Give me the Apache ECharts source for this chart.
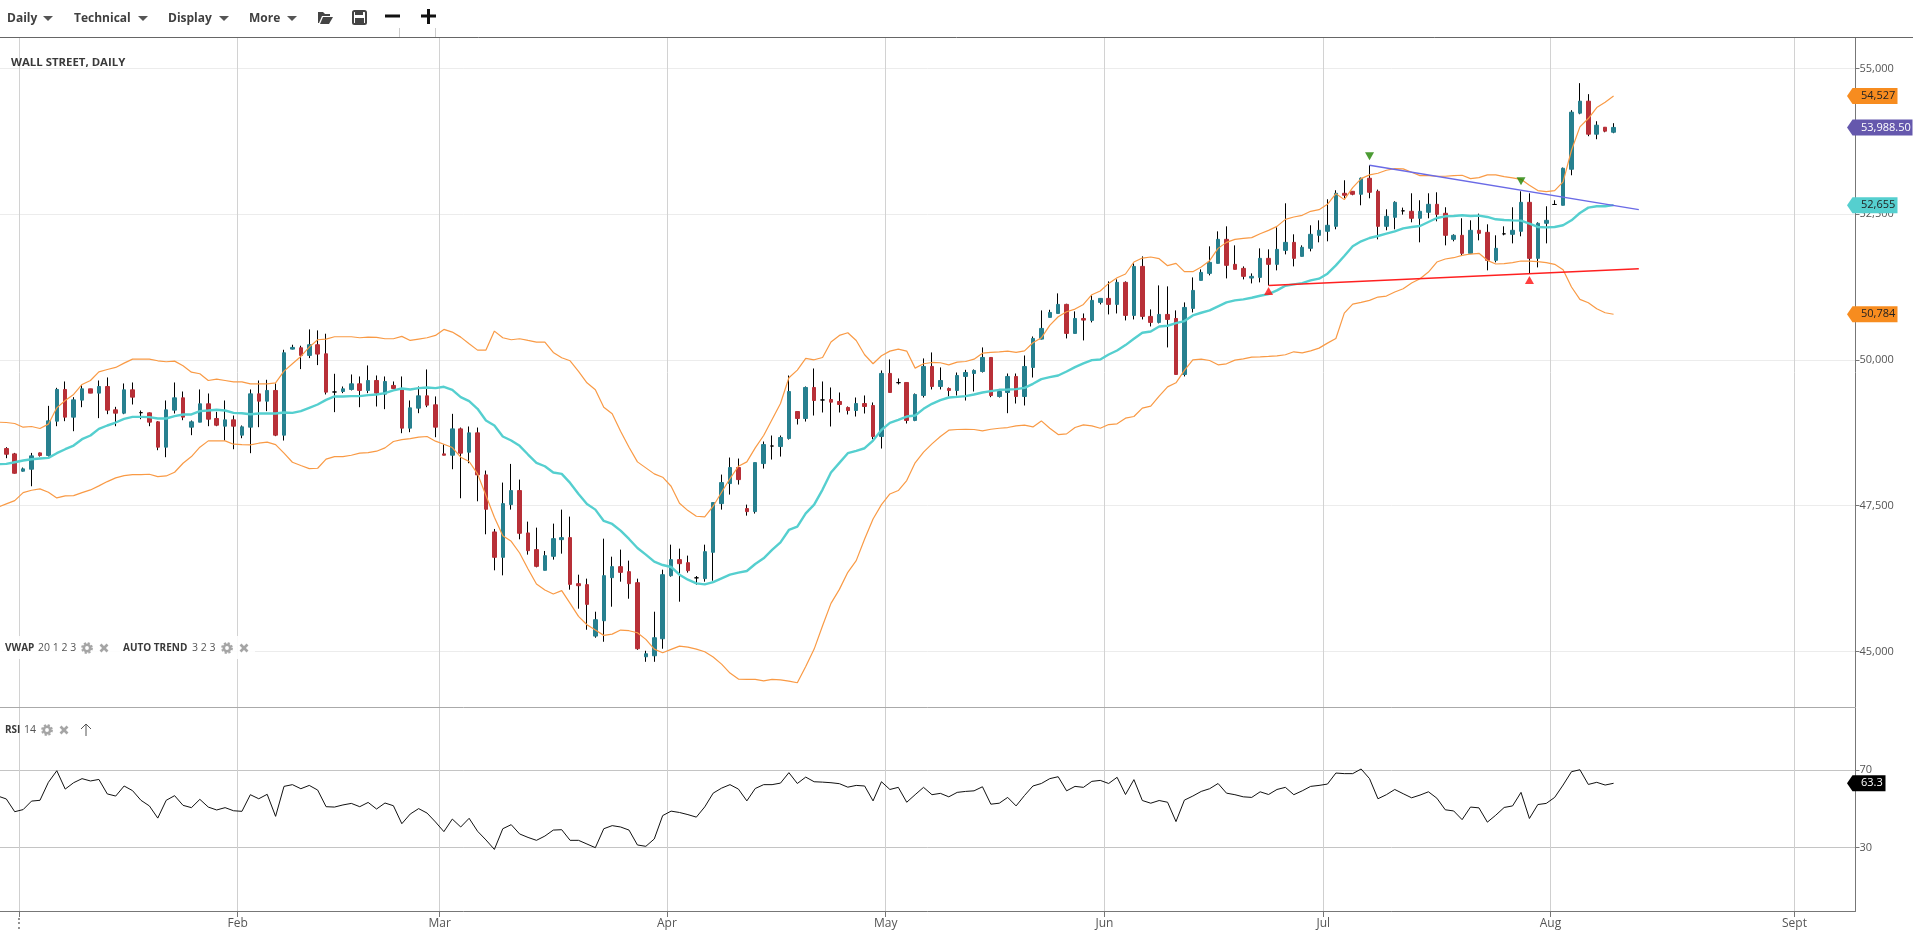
<!DOCTYPE html>
<html><head><meta charset="utf-8"><title>Wall Street, Daily</title>
<style>html,body{margin:0;padding:0;background:#fff;overflow:hidden}#c{width:1913px;height:932px}</style>
<script src="https://cdn.jsdelivr.net/npm/echarts@6/dist/echarts.min.js"></script>
</head><body><div id="c"></div>
<script>
const monthLabels = ['⋮','Feb','Mar','Apr','May','Jun','Jul','Aug','Sept'];
const monthSlots = [1.5,27.5,51.5,78.5,104.5,130.5,156.5,183.5,212.5];
const priceTicks = [45000,47500,50000,52500,55000];
const rsiTicks = [30,70];

const open = [48481,48389,48092,48126,48406,48361,48950,49494,49019,49311,
49505,49431,49545,49145,49087,49488,49096,49093,48939,48504,
49139,49351,48847,48933,49248,48996,48864,48973,48710,48847,
49419,49293,49477,48710,50186,50209,50078,50261,50106,49451,
49459,49494,49591,49477,49648,49414,49563,49494,48830,49173,
49385,49231,48389,48366,48818,48418,48750,48029,47050,46615,
47519,47760,47033,46747,46392,46632,46918,46953,46163,46146,
45264,45527,46266,46455,46369,46180,44909,44926,45218,46300,
46575,46523,46263,46249,46701,47536,47880,48155,47451,47399,
48223,48524,48515,48652,49116,48996,49528,49314,49322,49288,
49185,49133,49253,49219,48687,49769,49611,49614,48962,49391,
49889,49545,49511,49476,49717,49768,49802,50043,49373,49442,
49717,49373,49871,50358,50730,50798,50953,50455,50712,50678,
50987,51056,50953,51331,50764,51605,50747,50644,50781,50712,
49751,50884,51365,51485,51657,52069,51640,51571,51405,51416,
51743,51640,51880,52017,51777,51915,52138,52207,52292,52859,
52893,52842,53117,52893,52292,52447,52558,52550,52430,52533,
52670,52516,52069,52138,51829,52224,52189,51709,52163,52155,
52207,52704,51743,52344,52667,52653,53271,54233,54439,53872,53992,53906];
const close = [48383,48057,48132,48355,48361,48956,49494,49019,49316,49505,
49431,49545,49139,49087,49488,49362,49096,48933,48504,49145,
49351,49019,48939,49248,48984,48881,48973,48864,48853,49419,
49293,49477,48710,50123,50215,50078,50261,50101,49448,49451,
49505,49591,49477,49648,49431,49631,49511,48830,49179,49385,
49225,48847,48366,48818,48401,48750,48029,47439,46615,47536,
47760,47027,46729,46460,46643,46935,46953,46151,46128,45808,
45545,46300,46455,46357,46163,45047,44961,45236,46317,46575,
46506,46386,46263,46712,47554,47897,48155,47948,47399,48240,
48549,48524,48670,49459,48996,49528,49305,49314,49276,49236,
49133,49253,49202,48687,49769,49442,49611,48962,49408,49889,
49545,49648,49477,49734,49785,49820,50043,49390,49459,49717,
49373,49888,50369,50541,50815,50953,50455,50712,50684,51022,
51056,50953,51331,50764,51605,50747,50644,50781,50695,49751,
50901,51193,51502,51674,52069,51623,51554,51434,51434,51743,
51640,51897,52017,51743,51932,52155,52224,52310,52859,52825,
52842,53117,52876,52292,52464,52704,52558,52430,52550,52670,
52498,52138,52138,51829,52224,52172,51709,51915,52163,52224,
52704,51743,52344,52395,52667,53288,54250,54439,53872,54027,53924,53988.5];
const high = [48504,48406,48155,48406,48412,49213,49522,49631,49362,49568,
49505,49648,49700,49196,49597,49614,49133,49099,48950,49305,
49614,49459,48962,49494,49425,49110,49305,49047,48876,49494,
49648,49660,49597,50175,50261,50244,50524,50507,50450,49763,
49545,49751,49717,49906,49734,49717,49631,49717,49305,49545,
49837,49374,48549,49076,48841,48859,48841,48103,47101,47897,
48217,47948,47227,47124,46724,47193,47433,47313,46317,46249,
45682,46935,46626,46747,46558,46249,45012,45682,46403,46832,
46764,46644,46294,46832,47554,48034,48326,48309,47519,48240,
48601,48704,48704,49734,49116,49545,49854,49631,49528,49442,
49202,49356,49391,49271,49820,50009,49683,49614,49425,50026,
50129,49872,49528,49785,49831,49837,50215,50049,49476,49768,
49768,50077,50403,50850,50861,51142,50964,50833,50798,51107,
51056,51348,51382,51348,51657,51777,50867,51279,51262,50850,
50987,51416,51554,51949,52206,52292,51966,51605,51485,51914,
51897,52275,52687,52155,51966,52310,52395,52756,52911,53082,
52893,53128,53340,52922,52584,52722,52613,52859,52739,52859,
52876,52619,52155,52430,52395,52510,52327,52138,52292,52619,
52893,52859,52361,52636,52739,53300,54284,54748,54559,54095,53992,54061];
const low = [48315,48052,48086,47834,48343,48343,48864,48950,48778,49190,
49431,49002,49070,48864,49070,49236,48984,48864,48452,48332,
49082,48967,48710,48933,48864,48864,48618,48469,48658,48401,
48847,49122,48693,48618,50181,49843,50032,49912,49408,49105,
49431,49477,49190,49431,49202,49156,49500,48744,48761,49087,
49190,48675,48366,48126,47628,48229,47576,47010,46392,46306,
47433,46924,46661,46443,46392,46575,46678,46060,45734,45373,
45236,45167,45768,46197,45905,45029,44823,44823,45047,46283,
45854,46352,46146,46197,46214,47433,47691,47863,47330,47365,
48137,48292,48343,48635,48893,48944,49047,49099,48859,49099,
49065,49030,49082,48641,48481,49442,49580,48910,48950,49356,
49494,49494,49374,49390,49304,49459,49785,49362,49356,49087,
49253,49219,49699,50352,50730,50798,50369,50455,50335,50644,
50953,50781,50798,50678,50695,50695,50575,50627,50215,49751,
49717,50815,51365,51451,51657,51399,51554,51382,51313,51331,
51279,51537,51811,51605,51777,51863,52018,52035,52241,52773,
52825,52653,52773,52069,52224,52241,52493,52361,52018,52430,
52378,51966,52035,51794,51829,52052,51537,51674,52138,52000,
52121,51485,51588,52000,52659,52653,53168,54215,53838,53786,53906,53889];

// indicator series start one session before the first visible candle
const bbUpper = [48933,48927,48910,48847,48859,48824,48899,49179,49305,49408,49580,
49648,49797,49837,49872,49946,50015,50015,50015,49986,49969,
49980,49900,49791,49763,49648,49671,49648,49625,49625,49591,
49591,49591,49608,49809,49935,50060,50221,50347,50358,50398,
50398,50398,50381,50392,50387,50364,50364,50404,50335,50358,
50381,50421,50524,50478,50392,50278,50169,50169,50495,50381,
50347,50364,50335,50307,50307,50129,50038,49986,49803,49608,
49488,49190,49076,48778,48504,48252,48149,48046,47989,47834,
47542,47416,47319,47307,47491,47731,47966,48177,48252,48492,
48704,48979,49253,49694,49826,50026,50003,50043,50307,50421,
50467,50335,50089,49935,50072,50152,50186,50152,49860,49935,
49957,49952,49917,49963,49974,50014,50117,50129,50140,50152,
50129,50157,50295,50380,50592,50741,50827,50873,50953,51119,
51182,51313,51411,51474,51680,51748,51766,51737,51617,51657,
51514,51514,51594,51703,51914,52017,52069,52086,52098,52166,
52223,52292,52412,52452,52481,52550,52578,52670,52853,52750,
52956,53111,53174,53202,53254,53283,53277,53220,53162,53162,
53151,53151,53162,53168,53111,53128,53174,53174,53145,53122,
53099,52996,52905,52888,52905,53054,53597,53998,54141,54330,54422,54527];
const bbLower = [47473,47531,47588,47725,47765,47788,47731,47634,47668,47674,47725,
47771,47840,47914,47977,48017,48034,48034,48040,48000,48011,
48074,48229,48343,48504,48612,48612,48612,48555,48549,48544,
48572,48590,48549,48401,48246,48189,48137,48143,48298,48343,
48343,48366,48401,48412,48435,48492,48601,48635,48652,48675,
48687,48607,48555,48498,48332,48258,48046,47674,47302,46987,
46890,46689,46415,46157,46054,45985,46043,45825,45602,45459,
45367,45276,45298,45367,45356,45321,45207,45041,44978,45035,
45092,45075,45041,44995,44904,44783,44629,44526,44520,44520,
44497,44520,44514,44491,44463,44743,45041,45442,45825,46065,
46357,46558,46930,47273,47519,47702,47760,47931,48235,48418,
48561,48687,48796,48807,48812,48807,48784,48812,48829,48841,
48870,48881,48852,48955,48829,48721,48732,48841,48887,48870,
48829,48892,48904,49001,49030,49173,49207,49379,49539,49608,
49820,50003,50014,49991,49917,49934,49997,50020,50049,50054,
50060,50071,50089,50140,50123,50157,50203,50289,50369,50804,
50959,50987,51022,51079,51096,51165,51222,51319,51394,51508,
51680,51732,51754,51794,51817,51829,51709,51646,51651,51669,
51697,51697,51686,51669,51640,51548,51251,51039,50982,50879,50810,50784];
const vwapMid = [48212,48217,48246,48275,48298,48309,48320,48401,48469,48532,48641,
48704,48818,48876,48927,48990,49024,49024,49019,48996,48996,
49036,49065,49065,49122,49133,49145,49133,49093,49087,49070,
49082,49082,49082,49099,49093,49122,49179,49236,49316,49374,
49374,49379,49379,49397,49408,49431,49477,49511,49494,49517,
49528,49517,49540,49488,49362,49293,49162,48962,48876,48687,
48618,48527,48378,48235,48177,48069,48046,47891,47702,47531,
47433,47239,47187,47073,46930,46775,46661,46540,46483,46449,
46317,46231,46168,46151,46191,46254,46317,46352,46380,46500,
46598,46741,46872,47084,47141,47370,47519,47777,48069,48235,
48401,48441,48486,48618,48801,48921,48973,49030,49047,49162,
49248,49311,49356,49367,49379,49407,49442,49465,49488,49493,
49499,49522,49591,49671,49705,49734,49802,49877,49940,49997,
50008,50094,50163,50255,50363,50466,50489,50575,50587,50632,
50667,50764,50810,50850,50919,50987,51022,51039,51067,51102,
51130,51193,51273,51296,51319,51365,51394,51480,51623,51783,
51949,52035,52092,52126,52166,52206,52258,52281,52298,52367,
52435,52464,52470,52481,52470,52476,52453,52413,52401,52395,
52390,52338,52281,52275,52281,52310,52395,52521,52613,52636,52636,52655];
const rsi = [56.7,55.2,48.6,49.7,54.1,54.5,63.8,69.8,60.3,63.6,65.7,
64.5,65.3,57.8,56.7,61.9,59.5,54.5,51.6,45.3,54.5,
56.9,51.9,50.7,55.0,51.0,49.5,50.7,49.1,48.8,57.4,
55.3,57.6,46.2,61.7,62.6,60.5,62.2,59.8,51.2,51.0,
52.1,52.9,51.2,53.4,50.0,53.1,51.7,42.4,47.4,50.2,
47.9,43.3,38.3,44.8,40.7,45.2,38.5,34.0,29.1,39.8,
41.9,37.1,35.3,33.8,36.0,39.1,39.3,33.8,33.8,31.9,
30.0,39.8,41.4,40.7,39.1,31.4,30.7,34.5,46.6,48.9,
48.2,47.1,45.8,51.1,58.2,60.8,62.6,60.3,54.2,60.6,
62.6,62.6,63.4,68.8,63.2,66.5,64.1,63.9,63.6,63.1,
61.3,62.2,61.9,54.2,64.1,60.1,61.2,53.5,57.4,61.2,
57.4,58.1,56.3,58.6,59.1,59.4,61.5,52.5,53.0,56.0,
51.6,57.0,61.9,63.2,65.7,66.7,59.4,61.7,61.2,64.3,
64.8,63.2,66.4,57.5,65.2,54.4,53.0,54.4,53.5,43.5,
54.6,56.7,59.1,60.5,63.2,58.2,57.4,56.3,56.0,58.9,
57.5,60.1,61.2,57.4,59.4,61.7,62.2,62.9,68.6,68.3,
68.3,70.7,65.7,55.3,57.4,60.1,57.9,55.8,57.2,58.9,
55.6,49.6,49.0,44.5,51.0,50.6,43.2,46.8,50.8,51.6,
58.6,45.1,52.3,52.9,56.0,62.4,69.3,70.3,62.7,63.8,62.4,63.3];

const resistanceSlots = [162,194];
const resistanceValues = [53340,52579];
const supportSlots = [150,194];
const supportValues = [51279,51566];
const peakSlots = [162,180];
const peakValues = [53494,53065];
const troughSlots = [150,181];
const troughValues = [51182,51371];

const priceTagValues = [54527,53988.5,52655,50784];
const priceTagTexts = ['54,527','53,988.50','52,655','50,784'];
const rsiTagValues = [63.3];
const rsiTagTexts = ['63.3'];
const toolbarLabels = ['Daily','Technical','Display','More'];

const X_MIN = -0.75, X_MAX = 219.75;
const tagStyles = {
  '54,527':{fill:'#f78c1f',text:'#222',w:42},
  '53,988.50':{fill:'#6558ad',text:'#fff',w:57},
  '52,655':{fill:'#55cfcf',text:'#222',w:42},
  '50,784':{fill:'#f78c1f',text:'#222',w:42},
  '63.3':{fill:'#000',text:'#fff',w:30}
};
const FONT = '"Open Sans", sans-serif';

function tagRender(texts){
  return function(params, api){
    const p = api.coord([X_MAX, api.value(1)]);
    const t = texts[params.dataIndex];
    const s = tagStyles[t];
    const x = p[0], y = p[1];
    return {type:'group', children:[
      {type:'polygon', shape:{points:[[x-8.5,y],[x-3,y-8],[x+s.w,y-8],[x+s.w,y+8],[x-3,y+8]]}, style:{fill:s.fill}},
      {type:'text', x:x+5.5, y:y, style:{text:t, fill:s.text, font:'11px '+FONT, textVerticalAlign:'middle', verticalAlign:'middle'}}
    ]};
  };
}

const withSlot = arr => arr.map((v,i)=>[i-1,v]);
const candle = open.map((o,i)=>[i,o,close[i],low[i],high[i]]);
const body = open.map((o,i)=>[i,o,close[i],Math.min(o,close[i]),Math.max(o,close[i])]);
const zip = (a,b)=>a.map((v,i)=>[v,b[i]]);

const series = [
  {type:'candlestick', name:'Wall Street', data:candle, barWidth:1, z:2, silent:true,
   itemStyle:{color:'#000',color0:'#000',borderColor:'#000',borderColor0:'#000',borderColorDoji:'#000',borderWidth:1}},
  {type:'candlestick', name:'Bodies', data:body, barWidth:4, z:3, silent:true,
   itemStyle:{color:'#27808f',color0:'#b83038',borderColor:'#27808f',borderColor0:'#b83038',borderColorDoji:'#000',borderWidth:1}},
  {type:'line', name:'Upper', data:withSlot(bbUpper), showSymbol:false, z:4, lineStyle:{color:'#f99a45',width:1.2}},
  {type:'line', name:'Lower', data:withSlot(bbLower), showSymbol:false, z:4, lineStyle:{color:'#f99a45',width:1.2}},
  {type:'line', name:'VWAP', data:withSlot(vwapMid), showSymbol:false, z:4, lineStyle:{color:'#55cfcf',width:2.4}},
  {type:'line', name:'Resistance', data:zip(resistanceSlots,resistanceValues), showSymbol:false, z:5, lineStyle:{color:'#6a6ae6',width:1.4}},
  {type:'line', name:'Support', data:zip(supportSlots,supportValues), showSymbol:false, z:5, lineStyle:{color:'#ff2020',width:1.5}},
  {type:'scatter', name:'Peaks', data:zip(peakSlots,peakValues), symbol:'triangle', symbolRotate:180, symbolSize:[9,8], z:6, itemStyle:{color:'#1e8200'}},
  {type:'scatter', name:'Troughs', data:zip(troughSlots,troughValues), symbol:'triangle', symbolSize:[9,8], z:6, itemStyle:{color:'#ff0f0f'}},
  {type:'custom', name:'Price tags', data:priceTagValues.map(v=>[X_MAX,v]), renderItem:tagRender(priceTagTexts), clip:false, z:10, encode:{x:0,y:1}},
  {type:'line', name:'RSI', xAxisIndex:1, yAxisIndex:1, data:withSlot(rsi), showSymbol:false, z:4, lineStyle:{color:'#111',width:1}},
  {type:'custom', name:'RSI tag', xAxisIndex:1, yAxisIndex:1, data:rsiTagValues.map(v=>[X_MAX,v]), renderItem:tagRender(rsiTagTexts), clip:false, z:10, encode:{x:0,y:1}}
];

const txt = (x,y,text,opt={}) => ({type:'text', x, y, z:50, silent:true, style:Object.assign({
  text, fill:opt.fill||'#3a3a3a', font:(opt.weight||'normal')+' '+(opt.size||11)+'px '+(opt.family||FONT),
  textVerticalAlign:'middle', verticalAlign:'middle'})});
const caret = x => ({type:'polygon', z:50, silent:true, shape:{points:[[x,16],[x+10,16],[x+5,21]]}, style:{fill:'#555'}});
const toolbarX = [7,74,168,249], caretX = [43,138,219,287];
const gear = (x,y)=>({type:'group', z:50, silent:true, children:[
  {type:'circle', z:50, shape:{cx:x,cy:y,r:3.2}, style:{fill:'none',stroke:'#a5a5a5',lineWidth:2.6}},
  {type:'circle', z:50, shape:{cx:x,cy:y,r:5}, style:{fill:'none',stroke:'#a5a5a5',lineWidth:1.8,lineDash:[2.2,1.75]}}
]});
const cross = (x,y)=>({type:'group', z:50, silent:true, children:[
  {type:'line', z:50, shape:{x1:x-3.5,y1:y-3.5,x2:x+3.5,y2:y+3.5}, style:{stroke:'#a5a5a5',lineWidth:2.6}},
  {type:'line', z:50, shape:{x1:x-3.5,y1:y+3.5,x2:x+3.5,y2:y-3.5}, style:{stroke:'#a5a5a5',lineWidth:2.6}}
]});

const graphic = [
  {type:'rect', z:49, silent:true, shape:{x:0,y:0,width:1913,height:37}, style:{fill:'#fff'}},
  {type:'line', z:50, silent:true, shape:{x1:0,y1:37.5,x2:1913,y2:37.5}, style:{stroke:'#666',lineWidth:1}},
  {type:'line', z:50, silent:true, shape:{x1:399.5,y1:28,x2:399.5,y2:37}, style:{stroke:'#ccc',lineWidth:1}},
  {type:'line', z:50, silent:true, shape:{x1:435.5,y1:28,x2:435.5,y2:37}, style:{stroke:'#ccc',lineWidth:1}},
  ...toolbarLabels.map((t,i)=>txt(toolbarX[i],18.5,t,{weight:'bold',size:12,fill:'#404040'})),
  ...caretX.map(caret),
  // folder icon
  {type:'polygon', z:50, silent:true, shape:{points:[[318,12],[323,12],[325,14],[330,14],[330,16],[322,16],[319,23],[318,23]]}, style:{fill:'#444'}},
  {type:'polygon', z:50, silent:true, shape:{points:[[323,17],[333,17],[329,24],[320,24]]}, style:{fill:'#444'}},
  // save icon
  {type:'rect', z:50, silent:true, shape:{x:353,y:11,width:13,height:13,r:1.5}, style:{fill:'#fff',stroke:'#444',lineWidth:2}},
  {type:'rect', z:50, silent:true, shape:{x:355,y:10,width:8,height:5}, style:{fill:'#444'}},
  {type:'rect', z:50, silent:true, shape:{x:355,y:18,width:9,height:6}, style:{fill:'#444'}},
  // zoom out / in
  {type:'rect', z:50, silent:true, shape:{x:385,y:14.5,width:15,height:3}, style:{fill:'#111'}},
  {type:'rect', z:50, silent:true, shape:{x:421,y:14.5,width:15,height:3}, style:{fill:'#111'}},
  {type:'rect', z:50, silent:true, shape:{x:427,y:9,width:3,height:15}, style:{fill:'#111'}},
  txt(11,62.5,'WALL STREET, DAILY',{weight:'bold',size:11.4,fill:'#3a3a3a'}),
  // indicator legends
  {type:'rect', z:49, silent:true, shape:{x:0,y:636,width:255,height:23}, style:{fill:'rgba(255,255,255,0.9)'}},
  txt(5,648,'VWAP',{weight:'bold',size:10}),
  txt(38,648,'20 1 2 3',{size:10.5,fill:'#555'}),
  gear(87,648), cross(104,648),
  txt(123,648,'AUTO TREND',{weight:'bold',size:10}),
  txt(192,648,'3 2 3',{size:10.5,fill:'#555'}),
  gear(227,648), cross(244,648),
  txt(5,730,'RSI',{weight:'bold',size:10}),
  txt(24,730,'14',{size:10.5,fill:'#555'}),
  gear(47,730), cross(64,730),
  {type:'polyline', z:50, silent:true, shape:{points:[[86,736],[86,724]]}, style:{stroke:'#555',lineWidth:1,fill:null}},
  {type:'polyline', z:50, silent:true, shape:{points:[[81,729],[86,724],[91,729]]}, style:{stroke:'#555',lineWidth:1,fill:null}}
];

const labelStyle = {color:'#555', fontFamily:FONT, fontSize:11};
const chart = echarts.init(document.getElementById('c'), null, {renderer:'canvas', width:1913, height:932});
chart.setOption({
  animation:false, backgroundColor:'#fff',
  grid:[{left:0, right:57.5, top:37.5, height:670},{left:0, right:57.5, top:707.5, height:203.5}],
  xAxis:[
    {type:'value', gridIndex:0, min:X_MIN, max:X_MAX, scale:true,
     axisLine:{show:true,onZero:false,lineStyle:{color:'#aaa',width:1}}, axisLabel:{show:false},
     axisTick:{show:false,customValues:monthSlots},
     splitLine:{show:true,lineStyle:{color:'#d2d2d2',width:1}}},
    {type:'value', gridIndex:1, min:X_MIN, max:X_MAX, scale:true,
     axisLine:{show:true,onZero:false,lineStyle:{color:'#777',width:1}},
     axisTick:{show:true,length:6,customValues:monthSlots,lineStyle:{color:'#777'}},
     axisLabel:{show:true,customValues:monthSlots,margin:7,fontFamily:FONT,fontSize:12,color:'#555',
       formatter:v=>monthLabels[monthSlots.indexOf(v)]||''},
     splitLine:{show:true,lineStyle:{color:'#cfcfcf',width:1}}}
  ],
  yAxis:[
    {type:'value', gridIndex:0, position:'right', min:44039, max:55531, scale:true,
     axisLine:{show:true,onZero:false,lineStyle:{color:'#777',width:1}},
     axisTick:{show:true,length:4,customValues:priceTicks,lineStyle:{color:'#777'}},
     axisLabel:Object.assign({show:true,customValues:priceTicks,margin:4,formatter:v=>v.toLocaleString('en-US')},labelStyle),
     splitLine:{show:true,lineStyle:{color:'#ececec',width:1}}},
    {type:'value', gridIndex:1, position:'right', min:-2.75, max:102.5, scale:true,
     axisLine:{show:true,onZero:false,lineStyle:{color:'#777',width:1}},
     axisTick:{show:true,length:4,customValues:rsiTicks,lineStyle:{color:'#777'}},
     axisLabel:Object.assign({show:true,customValues:rsiTicks,margin:4},labelStyle),
     splitLine:{show:true,lineStyle:{color:'#c4c4c4',width:1}}}
  ],
  series, graphic
});
</script></body></html>
